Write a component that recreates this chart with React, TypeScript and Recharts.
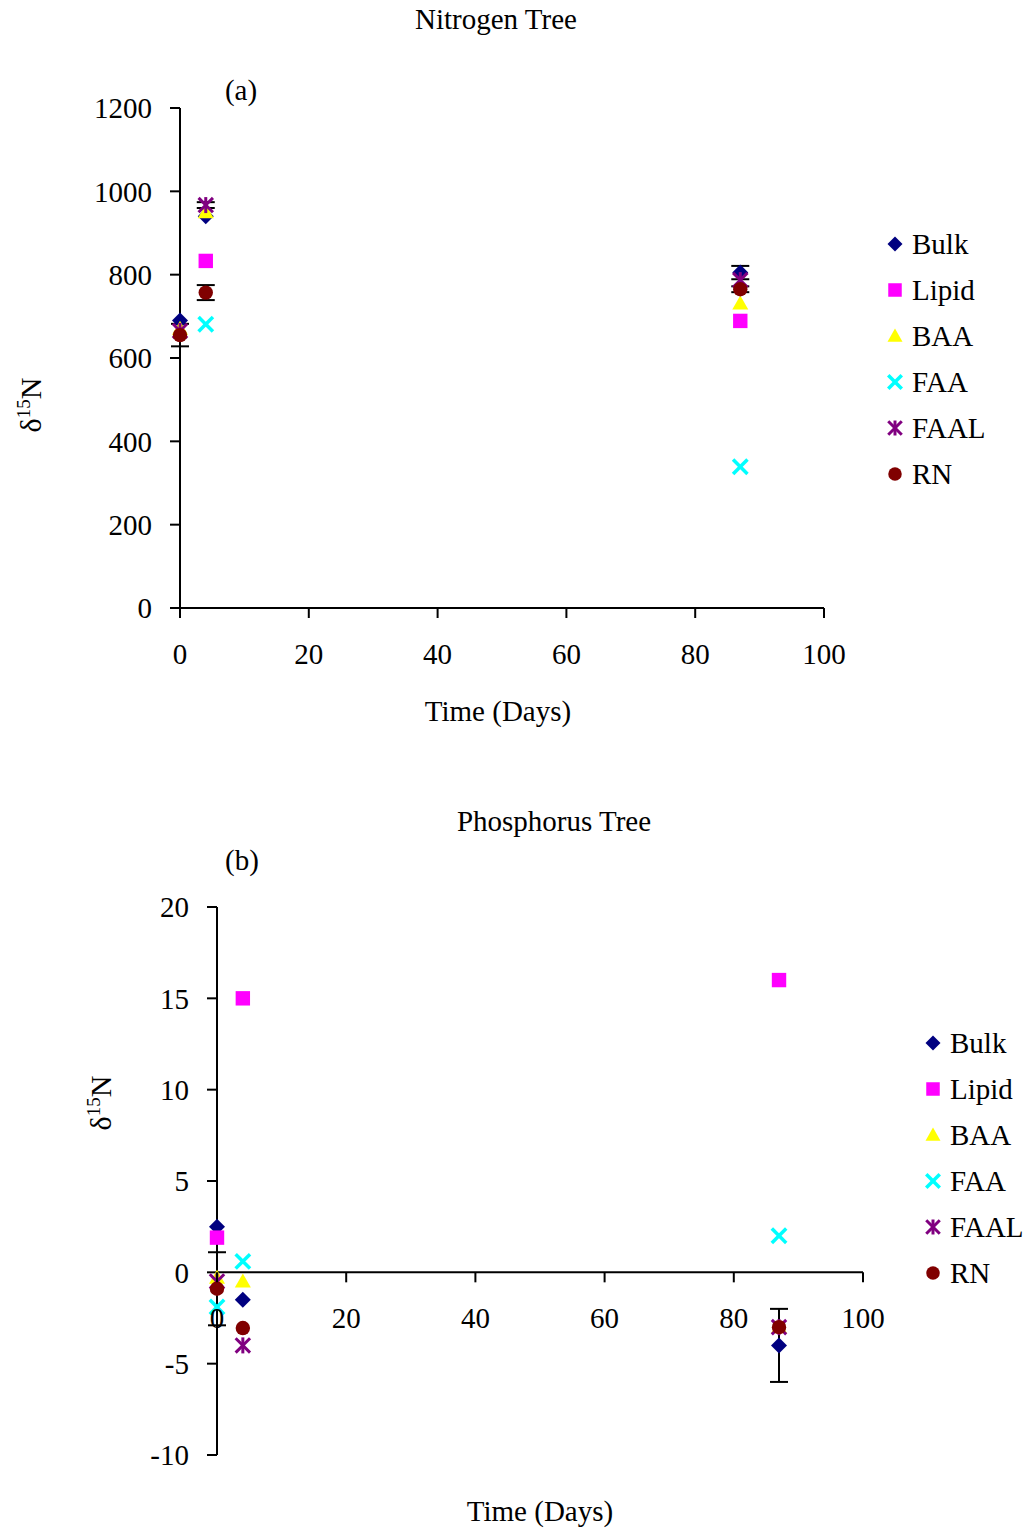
import React from "react";
import {
  ScatterChart,
  Scatter,
  XAxis,
  YAxis,
  ErrorBar,
  ReferenceLine,
} from "recharts";

const FONT = '"Liberation Serif", "Times New Roman", serif';

const days = [0, 4, 87];
const xTicks = [0, 20, 40, 60, 80, 100];

// (a) Nitrogen tree
const bulkN = [690, 940, 805];
const lipidN = [null, 833, 689];
const baaN = [670, 950, 731];
const faaN = [null, 681, 339];
const faalN = [665, 967, 787];
const rnN = [655, 757, 765];
const errDaysN = [0, 4, 4, 87, 87];
const errValsN = [655, 757, 967, 805, 765];
const errSizeN = [27, 18, 7, 16, 7];
const yTicksN = [0, 200, 400, 600, 800, 1000, 1200];

// (b) Phosphorus tree
const bulkP = [2.5, -1.5, -4.0];
const lipidP = [1.9, 15.0, 16.0];
const baaP = [-0.3, -0.5, -3.0];
const faaP = [-1.9, 0.6, 2.0];
const faalP = [-0.5, -4.0, -3.0];
const rnP = [-0.9, -3.05, -3.0];
const errDaysP = [0, 87];
const errValsP = [-0.9, -4.0];
const errSizeP = [2.0, 2.0];
const yTicksP = [-10, -5, 0, 5, 10, 15, 20];

const seriesNames = ["Bulk", "Lipid", "BAA", "FAA", "FAAL", "RN"];
const colors = ["#000080", "#FF00FF", "#FFFF00", "#00FFFF", "#800080", "#800000"];

const pts = (vals: (number | null)[]) =>
  days
    .map((d, i) => ({ x: d, y: vals[i] }))
    .filter((p) => p.y !== null && p.y !== undefined);

function Marker({ kind, cx, cy, s = 16 }: { kind: number; cx: number; cy: number; s?: number }) {
  const h = s / 2;
  const c = colors[kind];
  switch (kind) {
    case 0:
      return <polygon points={`${cx},${cy - h} ${cx + h},${cy} ${cx},${cy + h} ${cx - h},${cy}`} fill={c} />;
    case 1:
      return <rect x={cx - h * 0.9} y={cy - h * 0.9} width={s * 0.9} height={s * 0.9} fill={c} />;
    case 2:
      return <polygon points={`${cx},${cy - h} ${cx + h},${cy + h * 0.75} ${cx - h},${cy + h * 0.75}`} fill={c} />;
    case 3:
      return (
        <g stroke={c} strokeWidth={3.5}>
          <line x1={cx - h * 0.9} y1={cy - h * 0.9} x2={cx + h * 0.9} y2={cy + h * 0.9} />
          <line x1={cx - h * 0.9} y1={cy + h * 0.9} x2={cx + h * 0.9} y2={cy - h * 0.9} />
        </g>
      );
    case 4:
      return (
        <g stroke={c} strokeWidth={3}>
          <line x1={cx - h * 0.9} y1={cy - h * 0.9} x2={cx + h * 0.9} y2={cy + h * 0.9} />
          <line x1={cx - h * 0.9} y1={cy + h * 0.9} x2={cx + h * 0.9} y2={cy - h * 0.9} />
          <line x1={cx} y1={cy - h} x2={cx} y2={cy + h} />
        </g>
      );
    default:
      return <circle cx={cx} cy={cy} r={h * 0.9} fill={c} />;
  }
}

function LegendBox({ left, top }: { left: number; top: number }) {
  return (
    <svg width={160} height={280} style={{ position: "absolute", left, top }}>
      {seriesNames.map((n, i) => (
        <g key={n}>
          <Marker kind={i} cx={15} cy={23 + i * 46} s={15} />
          <text x={32} y={23 + i * 46} dy="0.35em" fontFamily={FONT} fontSize={29} fill="#000">
            {n}
          </text>
        </g>
      ))}
    </svg>
  );
}

function Label({ text, cx, cy }: { text: string; cx: number; cy: number }) {
  return (
    <div
      style={{
        position: "absolute",
        left: cx - 200,
        top: cy - 15,
        width: 400,
        textAlign: "center",
        fontFamily: FONT,
        fontSize: 29,
        lineHeight: 1,
      }}
    >
      {text}
    </div>
  );
}

function YLabel({ cx, cy }: { cx: number; cy: number }) {
  return (
    <div
      style={{
        position: "absolute",
        left: cx,
        top: cy,
        transform: "translate(-50%, -50%) rotate(-90deg)",
        fontFamily: FONT,
        fontSize: 30,
        lineHeight: 1,
        whiteSpace: "nowrap",
      }}
    >
      δ<sup style={{ fontSize: 19 }}>15</sup>N
    </div>
  );
}

const axisStyle = { stroke: "#000", strokeWidth: 2 };
const tickStyle = { fill: "#000", fontSize: 29, fontFamily: FONT };

function Panel({
  top,
  height,
  margin,
  yDomain,
  yTicks,
  series,
  errDays,
  errVals,
  errSize,
  zeroAxis,
}: any) {
  const plotTop = margin.top;
  const plotH = height - margin.top - margin.bottom - 30;
  const zeroY = plotTop + (plotH * yDomain[1]) / (yDomain[1] - yDomain[0]);
  const errData = errDays.map((d: number, i: number) => ({ x: d, y: errVals[i], e: errSize[i] }));

  const zeroTick = (p: any) => (
    <g>
      <line x1={p.x} y1={zeroY} x2={p.x} y2={zeroY + 10} stroke="#000" strokeWidth={2} />
      <text x={p.x} y={zeroY + 35} dy="0.71em" textAnchor="middle" {...tickStyle}>
        {p.payload.value}
      </text>
    </g>
  );

  return (
    <div style={{ position: "absolute", left: 0, top, width: 1034, height }}>
      <ScatterChart width={1034} height={height} margin={margin}>
        <XAxis
          type="number"
          dataKey="x"
          domain={[0, 100]}
          ticks={xTicks}
          height={30}
          axisLine={zeroAxis ? false : axisStyle}
          tickLine={zeroAxis ? false : axisStyle}
          tickSize={10}
          tickMargin={25}
          tick={zeroAxis ? zeroTick : tickStyle}
          interval={0}
        />
        <YAxis
          type="number"
          dataKey="y"
          domain={yDomain}
          ticks={yTicks}
          width={80}
          axisLine={axisStyle}
          tickLine={axisStyle}
          tickSize={10}
          tickMargin={18}
          tick={tickStyle}
          interval={0}
        />
        {zeroAxis && <ReferenceLine y={0} stroke="#000" strokeWidth={2} />}
        {series.map((vals: (number | null)[], i: number) => (
          <Scatter
            key={seriesNames[i]}
            name={seriesNames[i]}
            data={pts(vals)}
            isAnimationActive={false}
            shape={(p: any) => <Marker kind={i} cx={p.cx} cy={p.cy} />}
          />
        ))}
        <Scatter data={errData} isAnimationActive={false} legendType="none" shape={() => <g />}>
          <ErrorBar dataKey="e" direction="y" width={9} stroke="#000" strokeWidth={2} />
        </Scatter>
      </ScatterChart>
    </div>
  );
}

export default function App() {
  return (
    <div style={{ position: "absolute", left: 0, top: 0, width: 1034, height: 1530, background: "#fff" }}>
      <Panel
        top={0}
        height={760}
        margin={{ top: 108, right: 210, bottom: 122, left: 100 }}
        yDomain={[0, 1200]}
        yTicks={yTicksN}
        series={[bulkN, lipidN, baaN, faaN, faalN, rnN]}
        errDays={errDaysN}
        errVals={errValsN}
        errSize={errSizeN}
        zeroAxis={false}
      />
      <Panel
        top={780}
        height={750}
        margin={{ top: 127, right: 171, bottom: 45, left: 137 }}
        yDomain={[-10, 20]}
        yTicks={yTicksP}
        series={[bulkP, lipidP, baaP, faaP, faalP, rnP]}
        errDays={errDaysP}
        errVals={errValsP}
        errSize={errSizeP}
        zeroAxis={true}
      />
      <LegendBox left={880} top={221} />
      <LegendBox left={918} top={1020} />
      <Label text="Nitrogen Tree" cx={496} cy={20} />
      <Label text="(a)" cx={241} cy={91} />
      <Label text="Time (Days)" cx={498} cy={712} />
      <YLabel cx={30} cy={405} />
      <Label text="Phosphorus Tree" cx={554} cy={822} />
      <Label text="(b)" cx={242} cy={861} />
      <Label text="Time (Days)" cx={540} cy={1512} />
      <YLabel cx={100} cy={1103} />
    </div>
  );
}
